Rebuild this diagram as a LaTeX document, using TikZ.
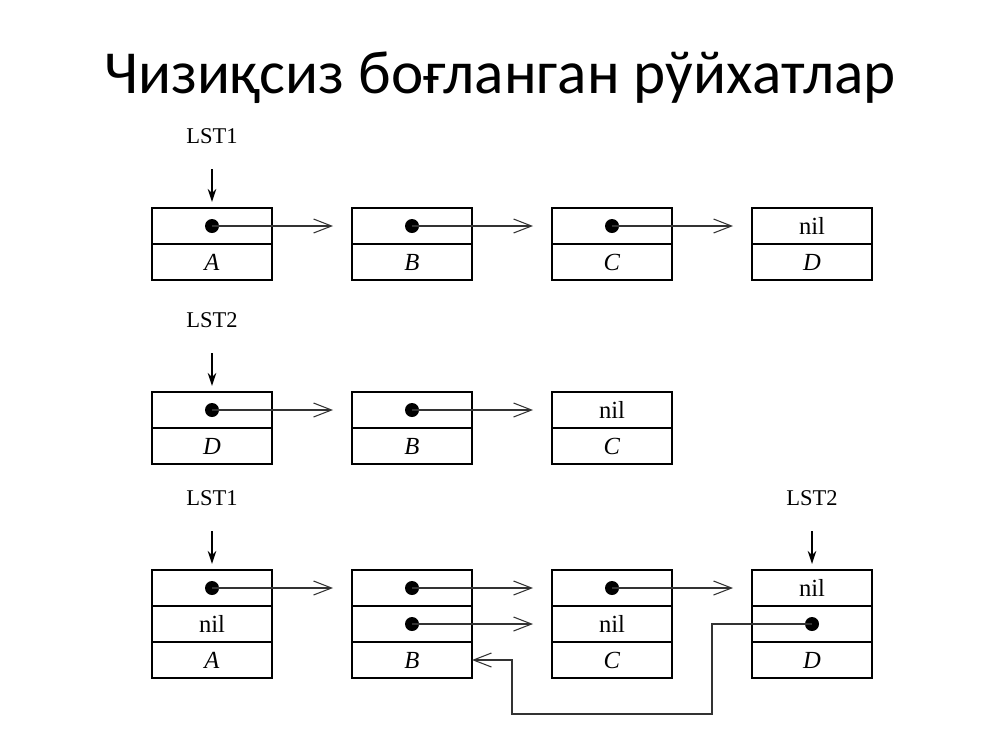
\documentclass[tikz,border=0pt]{standalone}
\usepackage{fontspec}
\setmainfont{Liberation Serif}
\newfontfamily\titlefont{Carlito}
\usetikzlibrary{positioning,calc,arrows.meta}
\tikzset{cellbox/.style={draw,line width=0.9pt,minimum width=2.4cm,minimum height=0.72cm,inner sep=0pt,outer sep=0pt,align=center,font=\fontsize{14}{16}\selectfont},
         blob/.style={circle,fill,inner sep=0pt,minimum size=0.28cm},
         ptr/.style={-{Straight Barb[length=0.36cm,width=0.28cm]},line width=0.6pt,draw=black!80,shorten >=0.38cm},
         lbl/.style={draw=none,inner sep=0pt,font=\fontsize{12.8}{15}\selectfont}
}
\tikzstyle{arrow} = [line width=0.8pt,-{Stealth[length=0.26cm,width=0.17cm]},shorten <=0.5cm,shorten >=0.12cm]

\begin{document}
\begin{tikzpicture}

\useasboundingbox[fill=white] (0,0) rectangle (20,-15);
\node[anchor=base,font=\titlefont\fontsize{34.8}{40}\selectfont] (title) at (10,-1.86) {Чизиқсиз боғланган рўйхатлар};

% first list
\node[cellbox] (a1top) at (4.24,-4.52) {};
\node[cellbox,below=0cm of a1top] (a1bot) {\textit{A}};
\node[cellbox,right=1.6cm of a1top] (b1top) {};
\node[cellbox,below=0cm of b1top] (b1bot) {\textit{B}};
\node[cellbox,right=1.6cm of b1top] (c1top) {};
\node[cellbox,below=0cm of c1top] (c1bot) {\textit{C}};
\node[cellbox,right=1.6cm of c1top] (d1top) {nil};
\node[cellbox,below=0cm of d1top] (d1bot) {\textit{D}};
\node[lbl,above=1.28cm of a1top] (lst1a) {LST1};
\node[blob] (a1dot) at (a1top) {};
\node[blob] (b1dot) at (b1top) {};
\node[blob] (c1dot) at (c1top) {};
\draw[arrow] (lst1a)--(a1top);
\draw[ptr] (a1dot.center)--(b1top.west);
\draw[ptr] (b1dot.center)--(c1top.west);
\draw[ptr] (c1dot.center)--(d1top.west);

% second list
\node[cellbox] (d2top) at (4.24,-8.2) {};
\node[cellbox,below=0cm of d2top] (d2bot) {\textit{D}};
\node[cellbox,right=1.6cm of d2top] (b2top) {};
\node[cellbox,below=0cm of b2top] (b2bot) {\textit{B}};
\node[cellbox,right=1.6cm of b2top] (c2top) {nil};
\node[cellbox,below=0cm of c2top] (c2bot) {\textit{C}};
\node[lbl,above=1.28cm of d2top] (lst2a) {LST2};
\node[blob] (d2dot) at (d2top) {};
\node[blob] (b2dot) at (b2top) {};
\draw[arrow] (lst2a)--(d2top);
\draw[ptr] (d2dot.center)--(b2top.west);
\draw[ptr] (b2dot.center)--(c2top.west);

% both lists sharing cells
\node[cellbox] (a3top) at (4.24,-11.76) {};
\node[cellbox,below=0cm of a3top] (a3mid) {nil};
\node[cellbox,below=0cm of a3mid] (a3bot) {\textit{A}};
\node[cellbox,right=1.6cm of a3top] (b3top) {};
\node[cellbox,below=0cm of b3top] (b3mid) {};
\node[cellbox,below=0cm of b3mid] (b3bot) {\textit{B}};
\node[cellbox,right=1.6cm of b3top] (c3top) {};
\node[cellbox,below=0cm of c3top] (c3mid) {nil};
\node[cellbox,below=0cm of c3mid] (c3bot) {\textit{C}};
\node[cellbox,right=1.6cm of c3top] (d3top) {nil};
\node[cellbox,below=0cm of d3top] (d3mid) {};
\node[cellbox,below=0cm of d3mid] (d3bot) {\textit{D}};
\node[lbl,above=1.28cm of a3top] (lst1b) {LST1};
\node[lbl,above=1.28cm of d3top] (lst2b) {LST2};
\node[blob] (a3dot) at (a3top) {};
\node[blob] (b3dot) at (b3top) {};
\node[blob] (b3dotm) at (b3mid) {};
\node[blob] (c3dot) at (c3top) {};
\node[blob] (d3dot) at (d3mid) {};
\coordinate (gapcd) at ($(c3bot.south east)!0.5!(d3bot.south west)+(0,-0.72)$);
\coordinate (gapbc) at ($(b3bot.east)!0.5!(c3bot.west)$);
\draw[arrow] (lst1b)--(a3top);
\draw[arrow] (lst2b)--(d3top);
\draw[ptr] (a3dot.center)--(b3top.west);
\draw[ptr] (b3dot.center)--(c3top.west);
\draw[ptr] (b3dotm.center)--(c3mid.west);
\draw[ptr] (c3dot.center)--(d3top.west);
\draw[ptr,shorten >=0pt] (d3dot.center)-|(gapcd)-|(gapbc)--(b3bot.east);

\end{tikzpicture}
\end{document}
